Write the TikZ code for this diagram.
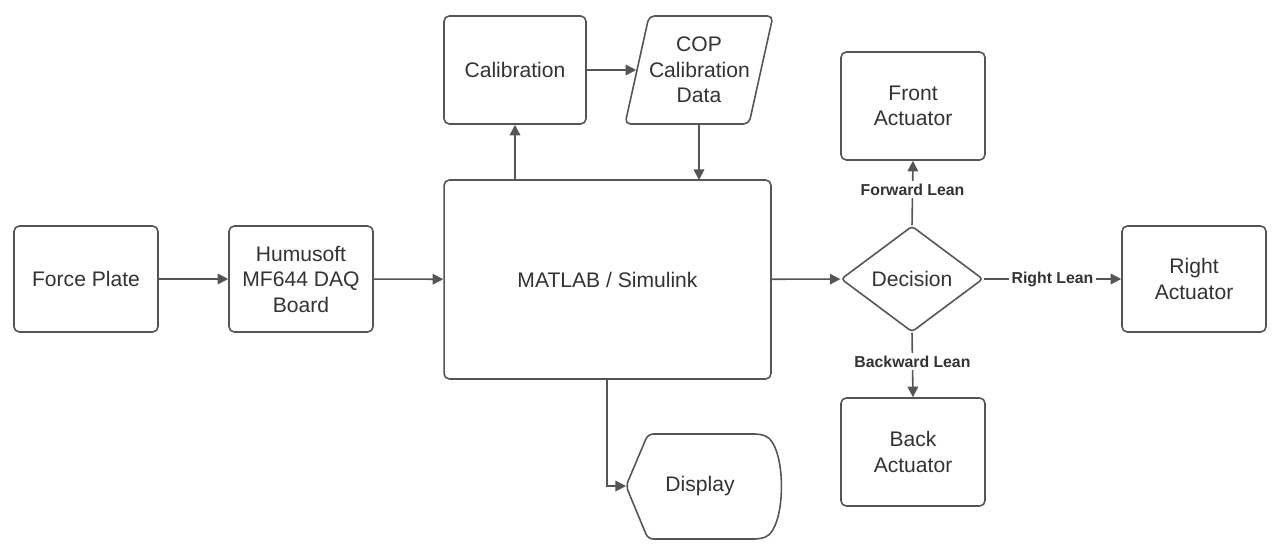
\documentclass[tikz,border=0pt]{standalone}
\usepackage{fontspec}
\setmainfont{Liberation Sans}
\usetikzlibrary{shapes.geometric,arrows.meta}
\definecolor{ln}{HTML}{555555}
\definecolor{tx}{HTML}{333333}
\begin{document}
\begin{tikzpicture}[x=0.02cm,y=-0.02cm,
  box/.style={draw=ln,line width=0.9pt,rounded corners=3pt,text=tx,align=center,font=\fontsize{12}{14.5}\selectfont,inner sep=0pt},
  arr/.style={draw=ln,line width=0.9pt,-{Triangle[length=6pt,width=6pt]}},
  lab/.style={font=\fontsize{9}{11}\selectfont\bfseries,text=tx,fill=white,inner sep=1.5pt}]
\useasboundingbox (0,0) rectangle (1283,557);
\node[box,minimum width=2.88cm,minimum height=2.12cm] (fp) at (86,279) {Force Plate};
\node[box,minimum width=2.88cm,minimum height=2.12cm] (hu) at (301,279) {Humusoft\\MF644 DAQ\\Board};
\node[box,minimum width=6.54cm,minimum height=3.98cm] (ml) at (607.5,279.5) {MATLAB / Simulink};
\node[box,minimum width=2.84cm,minimum height=2.16cm] (ca) at (515,70) {Calibration};
\node[draw=ln,line width=0.9pt,trapezium,trapezium left angle=70,trapezium right angle=110,rounded corners=3pt,minimum height=2.16cm,text width=2.0cm,align=center,text=tx,font=\fontsize{12}{14.5}\selectfont,inner sep=0pt,trapezium stretches body] (cop) at (699,70) {COP\\Calibration\\Data};
\node[box,diamond,rounded corners=2pt,minimum width=2.84cm,minimum height=2.12cm,aspect=1.34] (de) at (912,279) {Decision};
\node[box,minimum width=2.88cm,minimum height=2.16cm] (fa) at (913,106) {Front\\Actuator};
\node[box,minimum width=2.88cm,minimum height=2.16cm] (ba) at (913,452) {Back\\Actuator};
\node[box,minimum width=2.88cm,minimum height=2.12cm] (ra) at (1194,279) {Right\\Actuator};
% display
\draw[draw=ln,line width=0.9pt,rounded corners=3pt] (626,486) -- (648,434) -- (760,434) to[out=-20,in=20,looseness=0.7] (760,539) -- (648,539) -- cycle;
\node[text=tx,font=\fontsize{12}{14.5}\selectfont] (di) at (700,486) {Display};
\coordinate (dt) at (626,486);
% arrows
\draw[arr] (fp) -- (hu);
\draw[arr] (hu) -- (ml);
\draw[arr] (ml.north -| ca.south) -- (ca.south);
\draw[arr] (ca) -- (cop);
\draw[arr] (cop.south -| 699,0) -- (699,180);
\draw[arr] (ml) -- (de);
\draw[arr] (607,379) -- (607,486) -- (dt);
\draw[arr] (de.north) -- (fa.south) node[lab,pos=0.55] {Forward Lean};
\draw[arr] (de.south) -- (ba.north) node[lab,pos=0.45] {Backward Lean};
\draw[arr] (de.east) -- (ra.west) node[lab,midway] {Right Lean};
\end{tikzpicture}
\end{document}
